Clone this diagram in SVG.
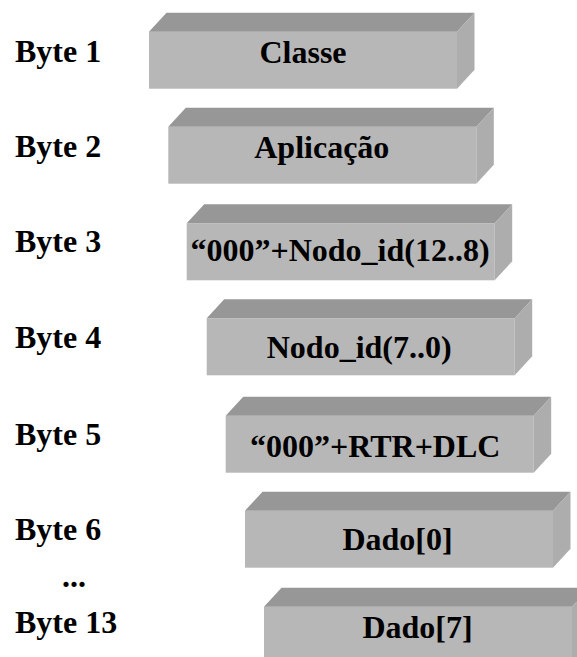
<svg xmlns="http://www.w3.org/2000/svg" xmlns:xlink="http://www.w3.org/1999/xlink" width="577" height="657" viewBox="0 0 577 657">
<style>
.lbl{font-family:"Liberation Serif","Times New Roman",serif;font-weight:bold;font-size:32px;fill:#000}
.bt{font-family:"Liberation Serif","Times New Roman",serif;font-weight:bold;font-size:32px;fill:#000;text-anchor:middle}
.front{fill:#b7b7b7}
.top{fill:#979797}
.side{fill:#adadad}
</style>
<defs>
<g id="box">
<rect class="front" x="0" y="0" width="308" height="57"/>
<polygon class="top" points="0,0 17.5,-19 325.5,-19 308,0"/>
<polygon class="side" points="308,0 325.5,-19 325.5,38 308,57"/>
</g>
</defs>
<g id="labels">
<text class="lbl" x="15" y="62">Byte 1</text>
<text class="lbl" x="15" y="157">Byte 2</text>
<text class="lbl" x="15" y="252">Byte 3</text>
<text class="lbl" x="15" y="348">Byte 4</text>
<text class="lbl" x="15" y="445">Byte 5</text>
<text class="lbl" x="15" y="540">Byte 6</text>
<text class="lbl" x="62" y="587">...</text>
<text class="lbl" x="15" y="633">Byte 13</text>
</g>
<g id="connectors"></g>
<g id="n1" transform="translate(149,31.7)"><use xlink:href="#box"/><text class="bt" x="154" y="31">Classe</text></g>
<g id="n2" transform="translate(168.3,126.7)"><use xlink:href="#box"/><text class="bt" x="153.5" y="31.5">Aplicação</text></g>
<g id="n3" transform="translate(186.7,223.3)"><use xlink:href="#box"/><text class="bt" x="153.3" y="38">“000”+Nodo_id(12..8)</text></g>
<g id="n4" transform="translate(206.7,318.3)"><use xlink:href="#box"/><text class="bt" x="152.5" y="40">Nodo_id(7..0)</text></g>
<g id="n5" transform="translate(225.7,415.7)"><use xlink:href="#box"/><text class="bt" x="149.5" y="41">“000”+RTR+DLC</text></g>
<g id="n6" transform="translate(245,510.7)"><use xlink:href="#box"/><text class="bt" x="152.5" y="39.5">Dado[0]</text></g>
<g id="n7" transform="translate(264,606.7)"><use xlink:href="#box"/><text class="bt" x="153.5" y="31.5">Dado[7]</text></g>
</svg>
